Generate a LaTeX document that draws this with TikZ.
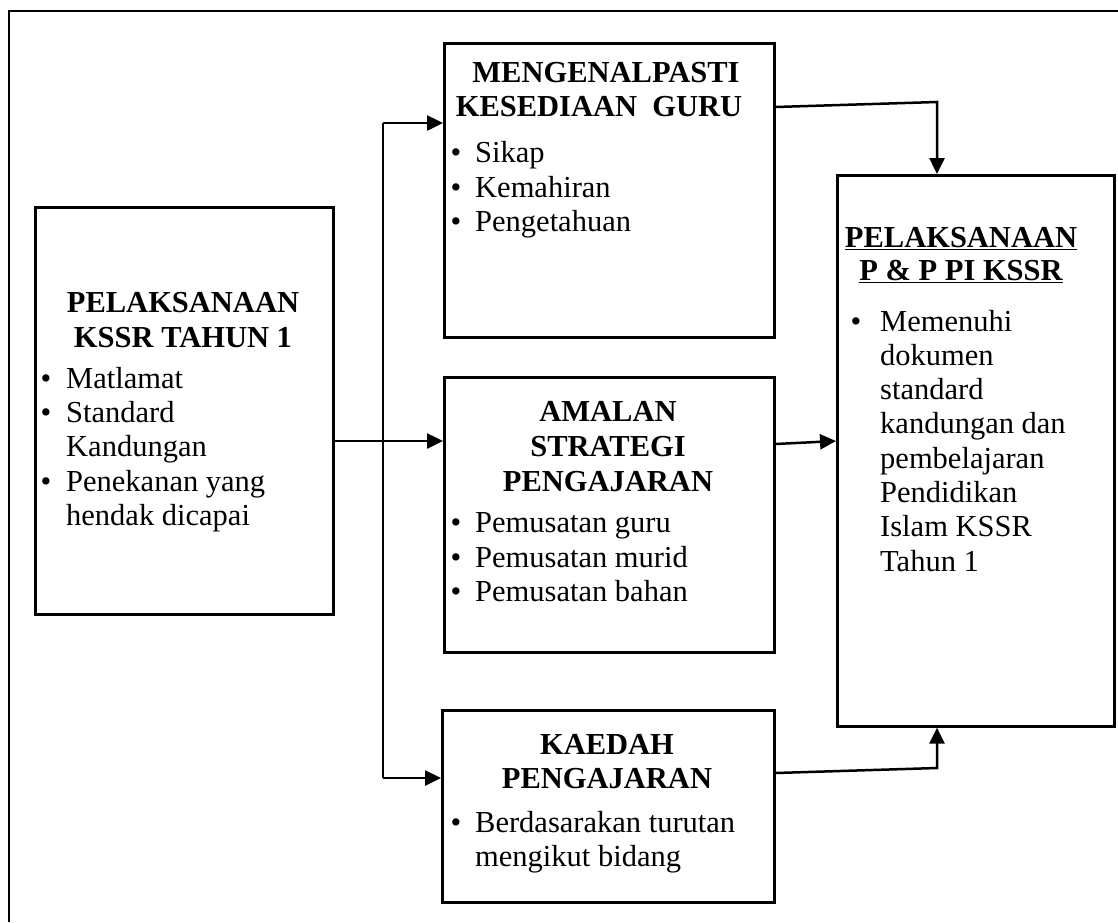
\documentclass[tikz,border=0pt]{standalone}
\usepackage{fontspec}
\setmainfont{Liberation Serif}
\usetikzlibrary{arrows.meta}
\begin{document}
\begin{tikzpicture}[x=1pt,y=-1pt,
  box/.style={draw,line width=2.6pt,inner sep=0pt,anchor=north west},
  conn/.style={line width=2.5pt,-{Triangle[length=16pt,width=15pt]}},
  ln/.style={line width=2.5pt},
  hd/.style={font=\fontsize{30.5}{35}\selectfont\bfseries,anchor=base,inner sep=0pt},
  hdu/.style={font=\fontsize{30.5}{35}\selectfont\bfseries,anchor=base,inner sep=0pt},
  tx/.style={font=\fontsize{30.5}{35}\selectfont,anchor=base west,inner sep=0pt},
  bl/.style={font=\fontsize{30.5}{35}\selectfont,anchor=base,inner sep=0pt},
]
\useasboundingbox (0,0) rectangle (1118,922);
\draw[line width=2.8pt] (9,922) -- (9,11) -- (1118,11);

% boxes
\node[box,minimum width=298pt,minimum height=407pt] (L) at (34,206) {};
\node[box,minimum width=330pt,minimum height=294pt] (T) at (443,42) {};
\node[box,minimum width=330pt,minimum height=275pt] (M) at (443,376) {};
\node[box,minimum width=332pt,minimum height=192pt] (B) at (441,709) {};
\node[box,minimum width=277pt,minimum height=551pt] (R) at (836,174) {};

% connectors
\coordinate (j) at (383,441);
\coordinate (jt) at (383,123);
\coordinate (jb) at (383,778);
\coordinate (c1) at (937,102);
\coordinate (c2) at (937,768);
\draw[conn] (L.east |- j) -- (M.west |- j);
\draw[ln] (jt) -- (jb);
\draw[conn] (jt) -- (T.west |- jt);
\draw[conn] (jb) -- (B.west |- jb);
\draw[conn] ([yshift=-65pt]T.north east) -- (c1) -- (R.north -| c1);
\draw[conn] ([yshift=-68pt]M.north east) -- ([yshift=-267pt]R.north west);
\draw[conn] ([yshift=-64pt]B.north east) -- (c2) -- (R.south -| c2);

% left box text
\node[hd] (l1) at (183,312) {PELAKSANAAN};
\node[hd] (l2) at (183,347) {KSSR TAHUN 1};
\node[bl] (lb1) at (46,388) {\textbullet};
\node[tx] (lt1) at (66,388) {Matlamat};
\node[bl] (lb2) at (46,422) {\textbullet};
\node[tx] (lt2) at (66,422) {Standard};
\node[tx] (lt3) at (66,456) {Kandungan};
\node[bl] (lb3) at (46,491) {\textbullet};
\node[tx] (lt4) at (66,491) {Penekanan yang};
\node[tx] (lt5) at (66,525) {hendak dicapai};

% top box text
\node[hd] (t1) at (606,82) {MENGENALPASTI};
\node[hd] (t2) at (599,116) {KESEDIAAN\ \ GURU};
\node[bl] (tb1) at (456,162) {\textbullet};
\node[tx] (tt1) at (475,162) {Sikap};
\node[bl] (tb2) at (456,197) {\textbullet};
\node[tx] (tt2) at (475,197) {Kemahiran};
\node[bl] (tb3) at (456,231) {\textbullet};
\node[tx] (tt3) at (475,231) {Pengetahuan};

% middle box text
\node[hd] (m1) at (608,421) {AMALAN};
\node[hd] (m2) at (608,456) {STRATEGI};
\node[hd] (m3) at (608,491) {PENGAJARAN};
\node[bl] (mb1) at (456,532) {\textbullet};
\node[tx] (mt1) at (475,532) {Pemusatan guru};
\node[bl] (mb2) at (456,567) {\textbullet};
\node[tx] (mt2) at (475,567) {Pemusatan murid};
\node[bl] (mb3) at (456,601) {\textbullet};
\node[tx] (mt3) at (475,601) {Pemusatan bahan};

% bottom box text
\node[hd] (b1) at (607,754) {KAEDAH};
\node[hd] (b2) at (607,788) {PENGAJARAN};
\node[bl] (bb1) at (456,832) {\textbullet};
\node[tx] (bt1) at (475,832) {Berdasarakan turutan};
\node[tx] (bt2) at (475,866) {mengikut bidang};

% right box text
\node[hdu] (r1) at (961,247) {\underline{PELAKSANAAN}};
\node[hdu] (r2) at (961,280) {\underline{P \& P PI KSSR}};
\node[bl] (rb1) at (856,331) {\textbullet};
\node[tx] (rt1) at (880,331) {Memenuhi};
\node[tx] (rt2) at (880,365) {dokumen};
\node[tx] (rt3) at (880,399) {standard};
\node[tx] (rt4) at (880,433) {kandungan dan};
\node[tx] (rt5) at (880,468) {pembelajaran};
\node[tx] (rt6) at (880,502) {Pendidikan};
\node[tx] (rt7) at (880,536) {Islam KSSR};
\node[tx] (rt8) at (880,571) {Tahun 1};
\end{tikzpicture}
\end{document}
